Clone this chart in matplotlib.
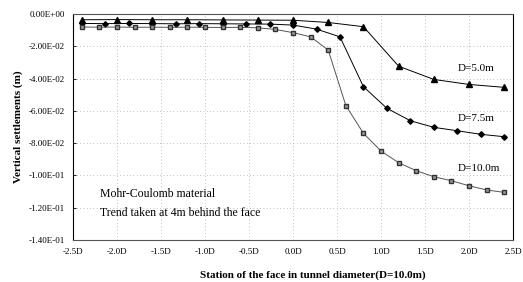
import numpy as np
import matplotlib
matplotlib.use('Agg')
import matplotlib.pyplot as plt
from matplotlib.ticker import FuncFormatter

plt.rcParams['font.family'] = ['Liberation Serif', 'DejaVu Serif']

# station of the face, in tunnel diameters (2 m excavation steps)
x5 = np.round(np.arange(-2.4, 2.41, 0.4), 3)
x75 = np.linspace(-2.4, 2.4, 19)
x10 = np.round(np.arange(-2.4, 2.41, 0.2), 3)

# vertical settlement (m)
y5 = [-0.0035, -0.0034, -0.0035, -0.0035, -0.0036, -0.0037, -0.0038,
      -0.0052, -0.0078, -0.0323, -0.0405, -0.0436, -0.0454]
y75 = [-0.0058, -0.0059, -0.0058, -0.0059, -0.0060, -0.0059, -0.0060,
       -0.0061, -0.0062, -0.0068, -0.0093, -0.0141, -0.0450, -0.0584,
       -0.0661, -0.0702, -0.0723, -0.0745, -0.0760]
y10 = [-0.0080, -0.0081, -0.0080, -0.0082, -0.0081, -0.0082, -0.0081,
       -0.0082, -0.0083, -0.0082, -0.0085, -0.0095, -0.0115, -0.0141,
       -0.0223, -0.0567, -0.0739, -0.0849, -0.0921, -0.0971, -0.1008,
       -0.1033, -0.1064, -0.1090, -0.1105]

labels = ['D=5.0m', 'D=7.5m', 'D=10.0m']
label_y = [-0.034, -0.0644, -0.0954]

fig = plt.figure(figsize=(5.23, 2.82), dpi=100)
ax = fig.add_axes([0.1396, 0.149, 0.8414, 0.801])

ax.plot(x5, y5, color='black', lw=0.7, marker='^', ms=3.8, mfc='black', mec='black')
ax.plot(x75, y75, color='black', lw=0.7, marker='D', ms=2.8, mfc='black', mec='black')
ax.plot(x10, y10, color='#555555', lw=0.7, marker='s', ms=3.3, mfc='#999999', mec='#333333')

for lab, ly in zip(labels, label_y):
    ax.text(1.875, ly, lab, fontsize=8, va='center', ha='left')

ax.text(0.061, 0.204, 'Mohr-Coulomb material', transform=ax.transAxes, fontsize=8.5, va='center')
ax.text(0.061, 0.12, 'Trend taken at 4m behind the face', transform=ax.transAxes, fontsize=8.5, va='center')

ax.set_xlim(-2.5, 2.5)
ax.set_ylim(-0.14, 0.0)
ax.set_xticks(np.arange(-2.5, 2.51, 0.5))
ax.set_yticks(np.arange(-0.14, 0.001, 0.02))
ax.xaxis.set_major_formatter(FuncFormatter(lambda v, p: f"{v:.1f}D"))
ax.yaxis.set_major_formatter(FuncFormatter(lambda v, p: "0.00E+00" if abs(v) < 1e-9 else f"{v:.2E}"))
ax.tick_params(labelsize=6.5, direction='in', length=2.5, width=0.6, pad=6)
ax.tick_params(axis='x', length=0)

ax.grid(True, linestyle=(0, (1, 3)), color='#aaaaaa', lw=0.6)
ax.set_axisbelow(True)
for s in ['left', 'right']:
    ax.spines[s].set_color('black')
    ax.spines[s].set_linewidth(0.8)
for s in ['top', 'bottom']:
    ax.spines[s].set_color('#555555')
    ax.spines[s].set_linestyle((0, (2, 1)))
    ax.spines[s].set_linewidth(0.8)

ax.set_ylabel('Vertical settlements (m)', fontsize=8, fontweight='bold', labelpad=4)
fig.text(0.598, 0.008, 'Station of the face in tunnel diameter(D=10.0m)',
         fontsize=8, fontweight='bold', ha='center', va='bottom')

fig.savefig('out.png', dpi=100)
